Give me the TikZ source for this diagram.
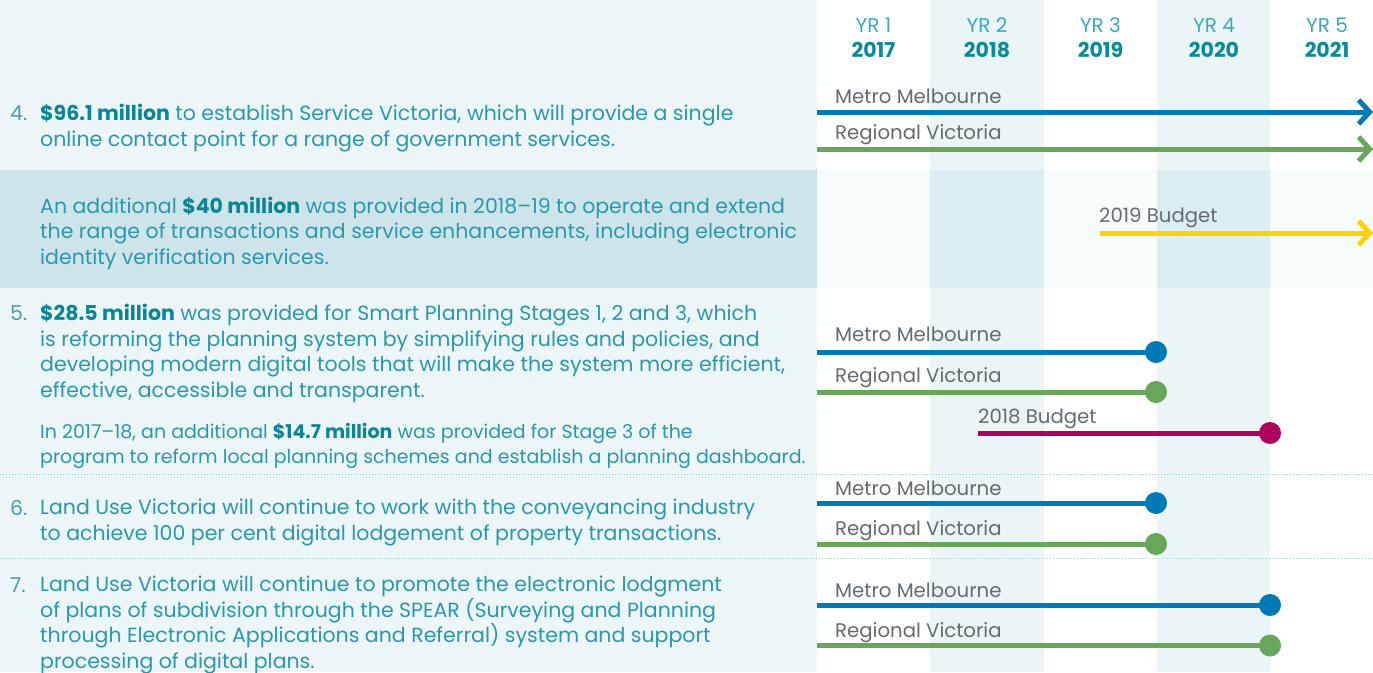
\documentclass[tikz,border=0pt]{standalone}
\usepackage{fontspec}
\setmainfont{Poppins}
\usetikzlibrary{arrows.meta}
\definecolor{panel}{HTML}{ECF6F9}
\definecolor{band}{HTML}{CDE5EA}
\definecolor{bandlight}{HTML}{F6FBFC}
\definecolor{banddark}{HTML}{DCEEF1}
\definecolor{colshade}{HTML}{EBF5F8}
\definecolor{bodytxt}{HTML}{2A98AA}
\definecolor{boldtxt}{HTML}{0B8595}
\definecolor{numtxt}{HTML}{4E9CAA}
\definecolor{yrtxt}{HTML}{3AAABB}
\definecolor{yeartxt}{HTML}{0A8A9A}
\definecolor{labeltxt}{HTML}{646B72}
\definecolor{metro}{HTML}{0079B7}
\definecolor{regional}{HTML}{67A65B}
\definecolor{budgetyellow}{HTML}{FFD200}
\definecolor{budgetberry}{HTML}{B0005F}
\definecolor{dotline}{HTML}{93CFC8}
\newcommand\amt[1]{\textbf{\color{boldtxt}#1}}
\begin{document}
\begin{tikzpicture}[x=1pt,y=-1pt,
 body/.style={anchor=base west, inner sep=0pt, align=left, text=bodytxt, font=\fontsize{20.5}{25.5}\selectfont},
 smallbody/.style={body, font=\fontsize{19}{25}\selectfont},
 num/.style={anchor=base west, inner sep=0pt, text=numtxt, font=\fontsize{20.5}{25.5}\selectfont},
 yr/.style={anchor=base, inner sep=0pt, text=yrtxt, font=\fontsize{20}{24}\selectfont},
 year/.style={anchor=base, inner sep=0pt, text=yeartxt, font=\fontsize{20.5}{24}\selectfont\bfseries},
 lbl/.style={anchor=base west, inner sep=0pt, text=labeltxt, font=\fontsize{19.7}{22}\selectfont},
 track/.style={line width=5pt},
 endarrow/.style={-{Straight Barb[length=11pt,width=24pt]}},
 enddot/.style={circle, inner sep=0pt, minimum size=22pt},
 sep/.style={dotline, line width=1pt, dash pattern=on 1pt off 2pt}]
\useasboundingbox (0,0) rectangle (1373,672);
% backgrounds
\fill[panel] (0,0) rectangle (817,170);
\fill[band] (0,170) rectangle (817,288);
\fill[panel] (0,288) rectangle (817,672);
\fill[white] (817,0) rectangle (1373,170);
\fill[white] (817,288) rectangle (1373,672);
\fill[bandlight] (817,170) rectangle (1373,288);
\foreach \a/\b in {930/1044,1157/1270}{
  \fill[colshade] (\a,0) rectangle (\b,170);
  \fill[banddark] (\a,170) rectangle (\b,288);
  \fill[colshade] (\a,288) rectangle (\b,672);
}
% separators
\coordinate (s1a) at (0,474); \coordinate (s1b) at (1373,474);
\coordinate (s2a) at (0,558); \coordinate (s2b) at (1373,558);
\draw[sep] (s1a) -- (s1b);
\draw[sep] (s2a) -- (s2b);
% header
\node[yr] (yr1) at (873.5,32) {YR 1}; \node[year] (y1) at (873.5,57) {2017};
\node[yr] (yr2) at (987,32) {YR 2}; \node[year] (y2) at (987,57) {2018};
\node[yr] (yr3) at (1100.5,32) {YR 3}; \node[year] (y3) at (1100.5,57) {2019};
\node[yr] (yr4) at (1214,32) {YR 4}; \node[year] (y4) at (1214,57) {2020};
\node[yr] (yr5) at (1327,32) {YR 5}; \node[year] (y5) at (1327,57) {2021};
% left texts (anchor = baseline of last line)
\node[num] (n4) at (10,120) {4.};
\node[body] (t4) at (40,146) {\amt{\$96.1 million} to establish Service Victoria, which will provide a single\\online contact point for a range of government services.};
\node[body] (tb) at (40,264) {An additional \amt{\$40 million} was provided in 2018--19 to operate and extend\\the range of transactions and service enhancements, including electronic\\identity verification services.};
\node[num] (n5) at (10,320) {5.};
\node[body] (t5) at (40,397) {\amt{\$28.5 million} was provided for Smart Planning Stages 1, 2 and 3, which\\is reforming the planning system by simplifying rules and policies, and\\developing modern digital tools that will make the system more efficient,\\effective, accessible and transparent.};
\node[smallbody] (t5b) at (40,463) {In 2017--18, an additional \amt{\$14.7 million} was provided for Stage 3 of the\\program to reform local planning schemes and establish a planning dashboard.};
\node[num] (n6) at (10,515) {6.};
\node[body] (t6) at (40,540) {Land Use Victoria will continue to work with the conveyancing industry\\to achieve 100 per cent digital lodgement of property transactions.};
\node[num] (n7) at (10,592) {7.};
\node[body] (t7) at (40,668) {Land Use Victoria will continue to promote the electronic lodgment\\of plans of subdivision through the SPEAR (Surveying and Planning\\through Electronic Applications and Referral) system and support\\processing of digital plans.};
% row 4 tracks
\coordinate (m4s) at (817,112); \coordinate (m4e) at (1373,112);
\coordinate (r4s) at (817,149); \coordinate (r4e) at (1373,149);
\node[lbl] (lm4) at (835,103) {Metro Melbourne};
\node[lbl] (lr4) at (835,139) {Regional Victoria};
\draw[track, metro, endarrow] (m4s) -- (m4e);
\draw[track, regional, endarrow] (r4s) -- (r4e);
% budget 2019
\coordinate (b9s) at (1100,233); \coordinate (b9e) at (1373,233);
\node[lbl] (lb9) at (1099,222) {2019 Budget};
\draw[track, budgetyellow, endarrow] (b9s) -- (b9e);
% row 5
\coordinate (m5s) at (817,352); \node[enddot, fill=metro] (m5d) at (1156,352) {};
\coordinate (r5s) at (817,392); \node[enddot, fill=regional] (r5d) at (1156,392) {};
\coordinate (b8s) at (978,433); \node[enddot, fill=budgetberry] (b8d) at (1270,433) {};
\node[lbl] (lm5) at (835,341) {Metro Melbourne};
\node[lbl] (lr5) at (835,382) {Regional Victoria};
\node[lbl] (lb8) at (978,423) {2018 Budget};
\draw[track, metro] (m5s) -- (m5d.center);
\draw[track, regional] (r5s) -- (r5d.center);
\draw[track, budgetberry] (b8s) -- (b8d.center);
% row 6
\coordinate (m6s) at (817,503); \node[enddot, fill=metro] (m6d) at (1156,503) {};
\coordinate (r6s) at (817,544); \node[enddot, fill=regional] (r6d) at (1156,544) {};
\node[lbl] (lm6) at (835,495) {Metro Melbourne};
\node[lbl] (lr6) at (835,535) {Regional Victoria};
\draw[track, metro] (m6s) -- (m6d.center);
\draw[track, regional] (r6s) -- (r6d.center);
% row 7
\coordinate (m7s) at (817,605); \node[enddot, fill=metro] (m7d) at (1270,605) {};
\coordinate (r7s) at (817,645.5); \node[enddot, fill=regional] (r7d) at (1270,645.5) {};
\node[lbl] (lm7) at (835,597) {Metro Melbourne};
\node[lbl] (lr7) at (835,637) {Regional Victoria};
\draw[track, metro] (m7s) -- (m7d.center);
\draw[track, regional] (r7s) -- (r7d.center);
\end{tikzpicture}
\end{document}
